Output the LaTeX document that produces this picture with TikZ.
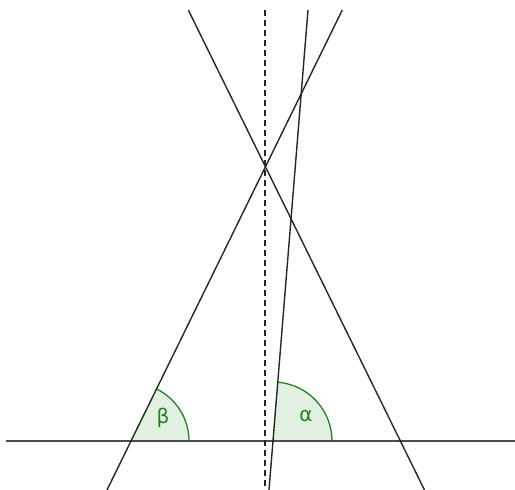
\documentclass[tikz,border=0pt]{standalone}
\usepackage{fontspec}
\setmainfont{DejaVu Sans}
\definecolor{anggreen}{RGB}{34,130,34}
\definecolor{angfill}{RGB}{226,240,226}
\begin{document}
\begin{tikzpicture}[x=1pt,y=-1pt,
  ln/.style={line width=1.4pt,draw=black!85},
  base/.style={line width=1.7pt,draw=black!70},
  anglab/.style={text=anggreen,font=\fontsize{20}{20}\selectfont}]
\useasboundingbox (0,0) rectangle (515,490);
\coordinate (B) at (131,441);
\coordinate (A) at (273,441);
% angle sectors
\fill[angfill] (B) -- ++(58,0) arc[start angle=0,end angle=-63.9,radius=58] -- cycle;
\draw[anggreen,line width=1.3pt] (B) ++(58,0) arc[start angle=0,end angle=-63.9,radius=58];
\fill[angfill] (A) -- ++(59,0) arc[start angle=0,end angle=-85.4,radius=59] -- cycle;
\draw[anggreen,line width=1.3pt] (A) ++(59,0) arc[start angle=0,end angle=-85.4,radius=59];
\node[anglab] (lb) at (163,418) {β};
\node[anglab] (la) at (306,416) {α};
% lines
\draw[base] (6,441) -- (515,441);
\draw[line width=1.4pt,draw=black!85,dash pattern=on 6pt off 4pt] (265,10) -- (265,490);
\draw[ln] (188.3,10) -- (424.5,490);
\draw[ln] (342.3,10) -- (107,490);
\draw[ln] (308,10) -- (269,490);
\end{tikzpicture}
\end{document}
